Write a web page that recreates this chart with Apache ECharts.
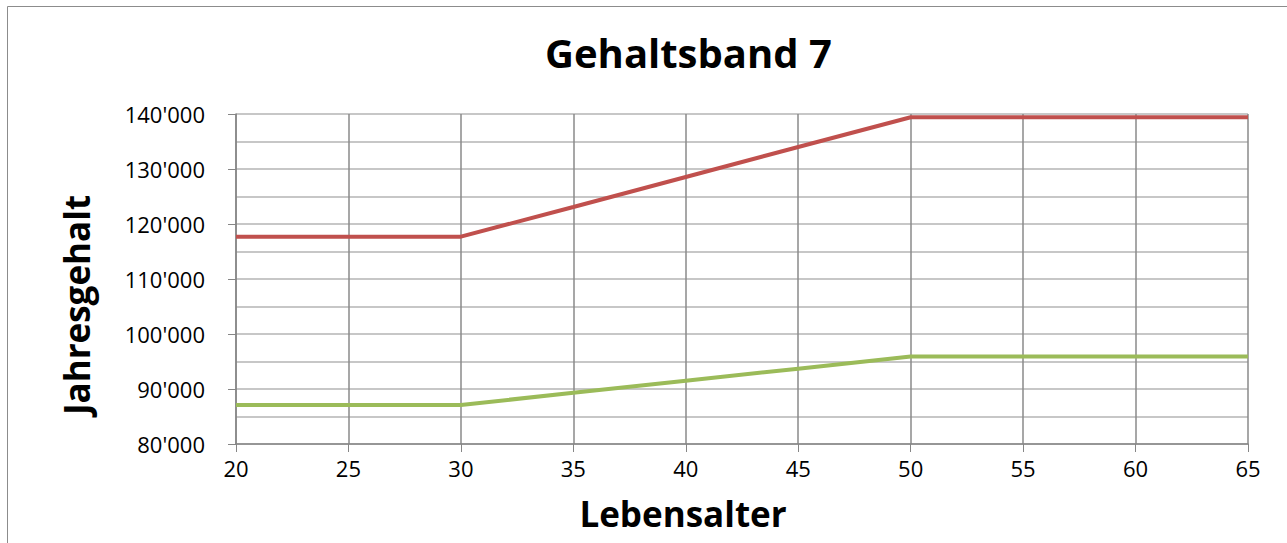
<!DOCTYPE html>
<html lang="de">
<head>
    <meta charset="UTF-8">
    <title>Gehaltsband 7</title>
    <script src="https://cdn.jsdelivr.net/npm/echarts@6/dist/echarts.min.js"></script>
    <style type="text/css">
        html, body { margin: 0; padding: 0; background: #fff; }
        #main { width: 1287px; height: 543px; }
    </style>
</head>
<body>
<div id="main"></div>
<script>
    // Lebensalter (x) und Jahresgehalt (y)
    const ages = [20, 25, 30, 35, 40, 45, 50, 55, 60, 65];
    const maxSalary = [117700, 117700, 117700, 123100, 128550, 134000, 139400, 139400, 139400, 139400];
    const minSalary = [87100, 87100, 87100, 89300, 91500, 93700, 95900, 95900, 95900, 95900];

    const font = '"Open Sans", sans-serif';
    const fmt = v => String(v).replace(/\B(?=(\d{3})+(?!\d))/g, "'");

    const myChart = echarts.init(document.getElementById('main'), null, {renderer: 'svg'});
    const option = {
        backgroundColor: '#fff',
        animation: false,
        title: {
            text: 'Gehaltsband 7',
            left: 540,
            top: 27,
            textStyle: {fontFamily: font, fontSize: 40, fontWeight: 'bold', color: '#000'}
        },
        graphic: [{
            type: 'rect',
            shape: {x: 7.5, y: 6.5, width: 1400, height: 700},
            style: {fill: 'none', stroke: '#8c8c8c', lineWidth: 1},
            silent: true
        }],
        grid: {left: 236, right: 39, top: 114, bottom: 99},
        xAxis: {
            type: 'value',
            min: 20, max: 65, interval: 5,
            name: 'Lebensalter',
            nameLocation: 'middle',
            nameGap: 52,
            nameTextStyle: {fontFamily: font, fontSize: 35, fontWeight: 'bold', color: '#000', padding: [0, 118, 0, 0]},
            axisLine: {lineStyle: {color: '#868686', width: 1.5}},
            axisTick: {show: true, length: 8, inside: false, lineStyle: {color: '#868686'}},
            axisLabel: {fontFamily: font, fontSize: 22, color: '#000', margin: 13},
            splitLine: {show: true, lineStyle: {color: '#8a8a8a', width: 1.5}}
        },
        yAxis: {
            type: 'value',
            min: 80000, max: 140000, interval: 10000,
            name: 'Jahresgehalt',
            nameLocation: 'middle',
            nameGap: 142,
            nameRotate: 90,
            nameTextStyle: {fontFamily: font, fontSize: 35, fontWeight: 'bold', color: '#000', padding: [0, 52, 0, 0]},
            axisLine: {show: true, lineStyle: {color: '#868686', width: 1.5}},
            axisTick: {show: true, length: 8, lineStyle: {color: '#868686'}},
            axisLabel: {fontFamily: font, fontSize: 22, color: '#000', margin: 31, formatter: fmt},
            splitLine: {show: true, lineStyle: {color: '#b5b5b5', width: 1.5}},
            minorTick: {show: false, splitNumber: 2},
            minorSplitLine: {show: true, lineStyle: {color: '#b5b5b5', width: 1.5}}
        },
        series: [
            {
                name: 'Maximum',
                type: 'line',
                symbol: 'none',
                lineStyle: {color: '#c0504d', width: 4},
                data: ages.map((a, i) => [a, maxSalary[i]])
            },
            {
                name: 'Minimum',
                type: 'line',
                symbol: 'none',
                lineStyle: {color: '#9bbb59', width: 4},
                data: ages.map((a, i) => [a, minSalary[i]])
            }
        ]
    };
    myChart.setOption(option);
</script>
</body>
</html>
